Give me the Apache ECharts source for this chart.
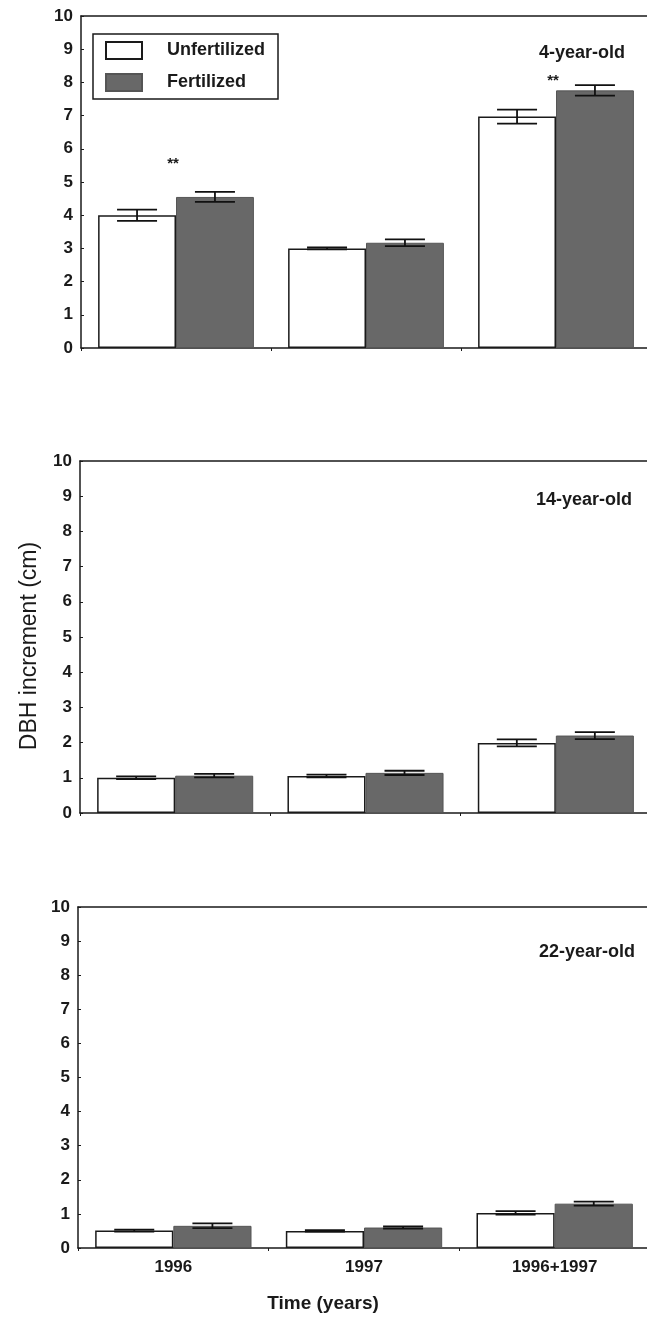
<!DOCTYPE html>
<html>
<head>
<meta charset="utf-8">
<script src="https://cdn.jsdelivr.net/npm/echarts@6/dist/echarts.min.js"></script>
<style>
html,body{margin:0;padding:0;background:#fff;overflow:hidden;width:647px;height:1321px;}
#c{width:662px;height:1321px;}
</style>
</head>
<body>
<div id="c"></div>
<script>
// ---- data ----
const categories = ['1996', '1997', '1996+1997'];
const yTicks = [0, 1, 2, 3, 4, 5, 6, 7, 8, 9, 10];
const panelTitles = ['4-year-old', '14-year-old', '22-year-old'];

const p1Unfert = [4.0, 3.0, 6.97];
const p1UnfertErr = [0.17, 0.03, 0.21];
const p1Fert = [4.55, 3.17, 7.76];
const p1FertErr = [0.15, 0.1, 0.16];
const p1Sig = ['**', '', '**'];

const p2Unfert = [1.0, 1.05, 1.99];
const p2UnfertErr = [0.04, 0.04, 0.1];
const p2Fert = [1.06, 1.14, 2.2];
const p2FertErr = [0.05, 0.06, 0.1];

const p3Unfert = [0.51, 0.5, 1.03];
const p3UnfertErr = [0.03, 0.02, 0.05];
const p3Fert = [0.65, 0.6, 1.3];
const p3FertErr = [0.07, 0.03, 0.06];

const xLabel = 'Time (years)';
const yLabel = 'DBH increment (cm)';

// ---- styling / construction ----
const FONT = '"Liberation Sans", Arial, Helvetica, sans-serif';
const INK = '#1a1a1a';
const panels = [
  {u: p1Unfert, ue: p1UnfertErr, f: p1Fert, fe: p1FertErr, grid: {left: 81, top: 16, width: 570, height: 332}},
  {u: p2Unfert, ue: p2UnfertErr, f: p2Fert, fe: p2FertErr, grid: {left: 80, top: 461, width: 571, height: 352}},
  {u: p3Unfert, ue: p3UnfertErr, f: p3Fert, fe: p3FertErr, grid: {left: 78, top: 907, width: 572, height: 341}}
];
const titlePos = [[625, 53], [632, 500], [635, 952]];
const starOffset = [28, 4];

const grids = [], xAxes = [], yAxes = [], series = [], graphics = [];

panels.forEach((p, k) => {
  grids.push(Object.assign({show: false}, p.grid));
  xAxes.push({
    type: 'category', gridIndex: k, data: categories, position: 'bottom',
    axisLine: {show: true, lineStyle: {color: INK, width: 1.5}},
    axisTick: {show: true, inside: false, length: 3, lineStyle: {color: INK}},
    axisLabel: {show: k === 2, fontFamily: FONT, fontWeight: 'bold', fontSize: 17, color: INK, margin: 11}
  });
  // top frame line
  xAxes.push({
    type: 'category', gridIndex: k, data: categories, position: 'top',
    axisLine: {show: true, lineStyle: {color: INK, width: 1.5}},
    axisTick: {show: false}, axisLabel: {show: false}
  });
  yAxes.push({
    type: 'value', gridIndex: k, min: yTicks[0], max: yTicks[yTicks.length - 1], interval: 1,
    axisLine: {show: true, lineStyle: {color: INK, width: 1.5}},
    axisTick: {show: true, inside: true, length: 3, lineStyle: {color: INK}},
    splitLine: {show: false},
    axisLabel: {fontFamily: FONT, fontWeight: 'bold', fontSize: 17, color: INK, margin: 8}
  });
  const xi = 2 * k;
  series.push({
    type: 'bar', name: 'Unfertilized', xAxisIndex: xi, yAxisIndex: k, data: p.u,
    barGap: '0%', barCategoryGap: '18%',
    itemStyle: {color: '#ffffff', borderColor: INK, borderWidth: 1.5}
  });
  series.push({
    type: 'bar', name: 'Fertilized', xAxisIndex: xi, yAxisIndex: k, data: p.f,
    barGap: '0%', barCategoryGap: '18%',
    itemStyle: {color: '#686868', borderColor: '#555', borderWidth: 1}
  });
  const errData = [];
  categories.forEach((c, i) => {
    errData.push([i, p.u[i], p.ue[i], -1]);
    errData.push([i, p.f[i], p.fe[i], 1]);
  });
  series.push({
    type: 'custom', xAxisIndex: xi, yAxisIndex: k, z: 5, data: errData,
    encode: {x: 0, y: 1},
    renderItem: function (params, api) {
      const i = api.value(0), m = api.value(1), e = api.value(2), s = api.value(3);
      const band = api.size([1, 0])[0];
      const off = s * band * 0.205;
      const t = api.coord([i, m + e]);
      const b = api.coord([i, m - e]);
      const x = t[0] + off, half = 20;
      const st = {stroke: '#111', lineWidth: 1.8};
      return {type: 'group', children: [
        {type: 'line', shape: {x1: x, y1: t[1], x2: x, y2: b[1]}, style: st},
        {type: 'line', shape: {x1: x - half, y1: t[1], x2: x + half, y2: t[1]}, style: st},
        {type: 'line', shape: {x1: x - half, y1: b[1], x2: x + half, y2: b[1]}, style: st}
      ]};
    }
  });
  graphics.push({
    type: 'text', x: titlePos[k][0], y: titlePos[k][1],
    style: {text: panelTitles[k], textAlign: 'right', textVerticalAlign: 'middle', font: 'bold 18px ' + FONT, fill: INK}
  });
});

// significance stars (panel 1)
const starData = [];
let sj = 0;
p1Sig.forEach((s, i) => {
  if (s) { starData.push([i, Math.max(p1Fert[i] + p1FertErr[i], p1Unfert[i] + p1UnfertErr[i]), s, starOffset[sj++]]); }
});
series.push({
  type: 'custom', xAxisIndex: 0, yAxisIndex: 0, z: 6, data: starData,
  encode: {x: 0, y: 1},
  renderItem: function (params, api) {
    const d = starData[params.dataIndex];
    const pt = api.coord([d[0], d[1]]);
    return {type: 'text', x: pt[0] - 3, y: pt[1] - d[3], style: {
      text: d[2], textAlign: 'center', textVerticalAlign: 'middle',
      font: 'bold 15px ' + FONT, fill: INK
    }};
  }
});

graphics.push({
  type: 'text', x: 323, y: 1304,
  style: {text: xLabel, textAlign: 'center', textVerticalAlign: 'middle', font: 'bold 19px ' + FONT, fill: INK}
});
graphics.push({
  type: 'text', x: 30, y: 646, rotation: Math.PI / 2,
  style: {text: yLabel, textAlign: 'center', textVerticalAlign: 'middle', font: '23px ' + FONT, fill: INK}
});

const chart = echarts.init(document.getElementById('c'), null, {renderer: 'canvas'});
chart.setOption({
  animation: false,
  backgroundColor: '#ffffff',
  legend: {
    data: ['Unfertilized', 'Fertilized'],
    orient: 'vertical', left: 93, top: 34,
    padding: [7, 13, 7, 12],
    icon: 'rect',
    itemWidth: 36, itemHeight: 17, itemGap: 13,
    borderColor: INK, borderWidth: 1.5, backgroundColor: '#fff',
    textStyle: {fontFamily: FONT, fontWeight: 'bold', fontSize: 18, color: INK, padding: [0, 0, 0, 20]}
  },
  graphic: graphics,
  grid: grids,
  xAxis: xAxes,
  yAxis: yAxes,
  series: series
});
</script>
</body>
</html>
